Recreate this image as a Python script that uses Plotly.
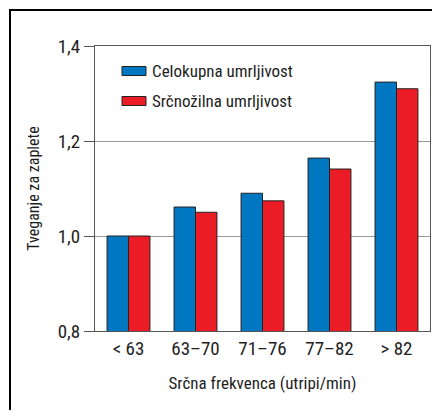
import plotly.graph_objects as go

categories = ["< 63", "63–70", "71–76", "77–82", "> 82"]
celokupna = [1.0, 1.061, 1.09, 1.164, 1.324]
srcnozilna = [1.0, 1.05, 1.074, 1.141, 1.31]
series_names = ["Celokupna umrljivost", "Srčnožilna umrljivost"]
y_tickvals = [0.8, 1.0, 1.2, 1.4]
y_ticktext = ["0,8", "1,0", "1,2", "1,4"]

BLUE = "#0078C1"
RED = "#EC1C27"
FONT = "Roboto Condensed, Liberation Sans Narrow, sans-serif"
TXT = "#1e1e1e"

OFF = 8  # page body margin
W, H = 440 - 2 * OFF, 418 - 2 * OFF
L, R, T, B = 95 - OFF, 2, 46 - OFF, 79
pw, ph = W - L - R, H - T - B

def px(x):
    return (x - OFF - L) / pw

def py(y):
    return (H - B - (y - OFF)) / ph

fig = go.Figure()
for name, vals, col in [(series_names[0], celokupna, BLUE), (series_names[1], srcnozilna, RED)]:
    fig.add_trace(go.Bar(
        x=categories, y=vals, name=name, marker_color=col,
        marker_line=dict(color="#222222", width=1), showlegend=False,
    ))

shapes = []
annotations = []
# outer frame: only top and left sides are visible in the crop
shapes.append(dict(type="line", xref="paper", yref="paper",
                   x0=px(9), x1=px(OFF + W), y0=py(10), y1=py(10),
                   line=dict(color="black", width=2), layer="below"))
shapes.append(dict(type="line", xref="paper", yref="paper",
                   x0=px(10), x1=px(10), y0=py(9), y1=py(OFF + H),
                   line=dict(color="black", width=2), layer="below"))
# custom legend
for i, (name, col) in enumerate(zip(series_names, [BLUE, RED])):
    yc = 71 + 30 * i
    shapes.append(dict(type="rect", xref="paper", yref="paper",
                       x0=px(122), x1=px(146), y0=py(yc + 4.5), y1=py(yc - 4.5),
                       line=dict(color="#222222", width=1), fillcolor=col))
    annotations.append(dict(xref="paper", yref="paper", x=px(150), y=py(yc),
                            xanchor="left", yanchor="middle", text=name, showarrow=False,
                            font=dict(size=17, color=TXT, family=FONT)))

fig.update_layout(
    width=W, height=H,
    margin=dict(l=L, r=R, t=T, b=B),
    paper_bgcolor="white", plot_bgcolor="white",
    barmode="group", bargap=0.36, bargroupgap=0,
    font=dict(family=FONT, size=16, color=TXT),
    shapes=shapes, annotations=annotations,
    xaxis=dict(
        showline=True, linecolor="#555555", linewidth=1, mirror=True,
        ticks="", tickfont=dict(size=19),
        title=dict(text="Srčna frekvenca (utripi/min)", font=dict(size=17), standoff=18),
    ),
    yaxis=dict(
        range=[0.8, 1.4], tickvals=y_tickvals, ticktext=y_ticktext,
        showline=True, linecolor="#555555", linewidth=1, mirror=True,
        showgrid=True, gridcolor="#999999", gridwidth=1,
        ticks="outside", ticklen=10, tickcolor="#555555",
        tickfont=dict(size=19),
        title=dict(text="Tveganje za zaplete", font=dict(size=16), standoff=14),
    ),
)

fig.write_html("out.html")
